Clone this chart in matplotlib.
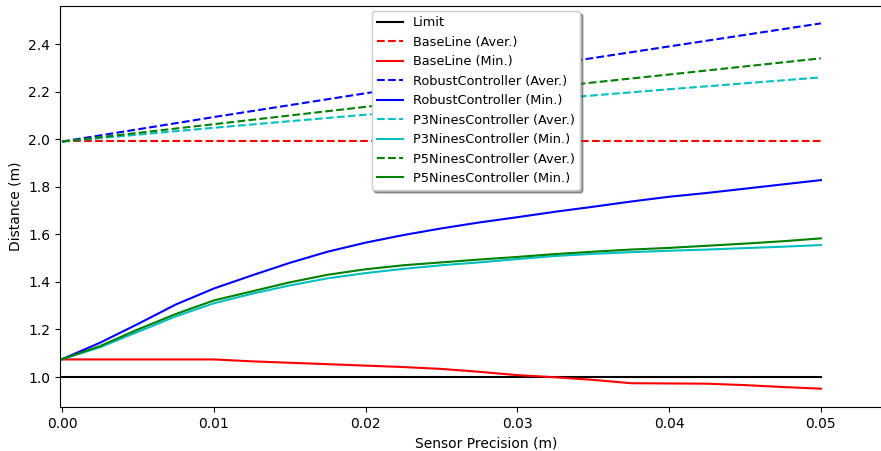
import numpy as np
import matplotlib
matplotlib.use("Agg")
import matplotlib.pyplot as plt

# Precisión del sensor (m)
x_min = [0, 0.0025, 0.005, 0.0075, 0.01, 0.0125, 0.015, 0.0175, 0.02, 0.0225, 0.025,
         0.0275, 0.03, 0.0325, 0.035, 0.0375, 0.04, 0.0425, 0.045, 0.0475, 0.05]
x_aver = [0, 0.01, 0.02, 0.03, 0.04, 0.05]

limit = [1.0, 1.0]
x_limit = [0, 0.05]

# Promedios
base_aver = [1.992, 1.992, 1.992, 1.992, 1.992, 1.992]
robust_aver = [1.99, 2.093, 2.193, 2.293, 2.39, 2.487]
p3_aver = [1.99, 2.048, 2.103, 2.158, 2.21, 2.26]
p5_aver = [1.99, 2.063, 2.136, 2.205, 2.272, 2.34]

# Mínimos
base_min = [1.074, 1.074, 1.074, 1.074, 1.074, 1.066, 1.06, 1.054, 1.048, 1.042, 1.034,
            1.022, 1.008, 0.999, 0.988, 0.974, 0.973, 0.972, 0.966, 0.958, 0.951]
robust_min = [1.075, 1.144, 1.223, 1.305, 1.372, 1.427, 1.48, 1.527, 1.565, 1.597, 1.625,
              1.65, 1.672, 1.695, 1.716, 1.738, 1.758, 1.774, 1.792, 1.81, 1.828]
p3_min = [1.075, 1.125, 1.19, 1.255, 1.31, 1.35, 1.385, 1.415, 1.437, 1.455, 1.47,
          1.482, 1.496, 1.509, 1.518, 1.525, 1.531, 1.536, 1.542, 1.548, 1.555]
p5_min = [1.075, 1.13, 1.20, 1.265, 1.322, 1.36, 1.398, 1.43, 1.453, 1.47, 1.482,
          1.494, 1.505, 1.517, 1.527, 1.536, 1.543, 1.552, 1.561, 1.571, 1.583]

fig = plt.figure(figsize=(8.81, 4.51), dpi=100)
# el borde derecho del eje queda fuera de la imagen, como en el original
ax = fig.add_axes([60 / 881, 1 - 407 / 451, 852 / 881, 401 / 451])

ax.plot(x_limit, limit, 'k-', label='Limit')
ax.plot(x_aver, base_aver, 'r--', label='BaseLine (Aver.)')
ax.plot(x_min, base_min, 'r-', label='BaseLine (Min.)')
ax.plot(x_aver, robust_aver, 'b--', label='RobustController (Aver.)')
ax.plot(x_min, robust_min, 'b-', label='RobustController (Min.)')
ax.plot(x_aver, p3_aver, 'c--', label='P3NinesController (Aver.)')
ax.plot(x_min, p3_min, 'c-', label='P3NinesController (Min.)')
ax.plot(x_aver, p5_aver, 'g--', label='P5NinesController (Aver.)')
ax.plot(x_min, p5_min, 'g-', label='P5NinesController (Min.)')

ax.set_xlim(-0.00013, 0.056)
ax.set_ylim(0.874, 2.56)
ax.set_xticks([0, 0.01, 0.02, 0.03, 0.04, 0.05])
ax.set_xlabel('Sensor Precision (m)')
ax.set_ylabel('Distance (m)')
ax.legend(loc='upper center', bbox_to_anchor=(0.488, 1.0), shadow=True,
          framealpha=1, fontsize=9.3, borderaxespad=0.4)

plt.savefig('out.png', dpi=100)
